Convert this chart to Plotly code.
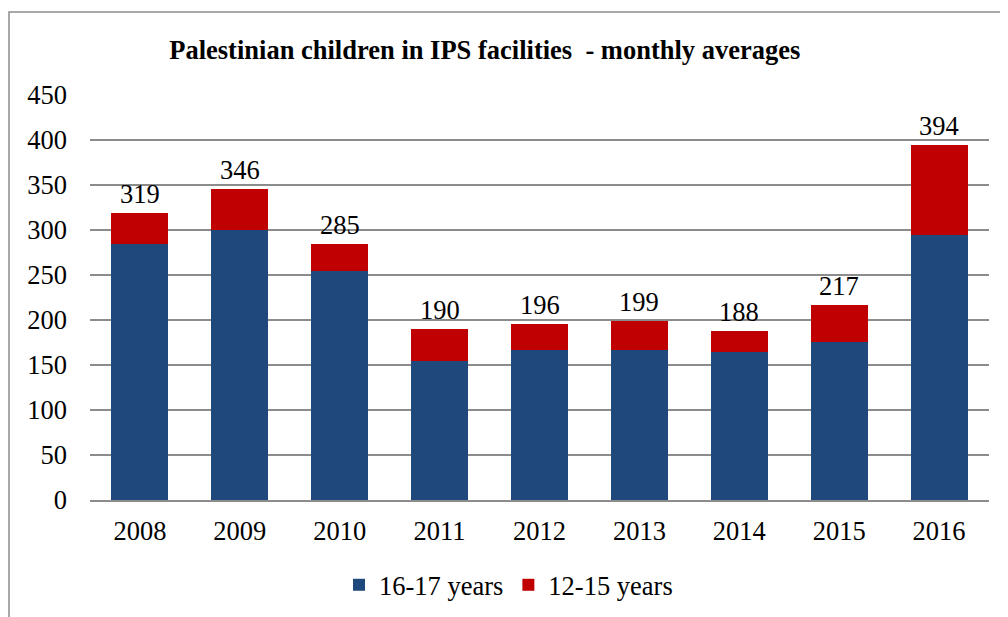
import plotly.graph_objects as go

years = ["2008", "2009", "2010", "2011", "2012", "2013", "2014", "2015", "2016"]
age_16_17 = [285, 300, 254, 154, 167, 167, 165, 176, 294]
age_12_15 = [34, 46, 31, 36, 29, 32, 23, 41, 100]
totals = [319, 346, 285, 190, 196, 199, 188, 217, 394]
y_ticks = [0, 50, 100, 150, 200, 250, 300, 350, 400, 450]

FONT = "Times New Roman, Liberation Serif, Times, serif"

fig = go.Figure()
fig.add_trace(go.Bar(x=years, y=age_16_17, name="16-17 years",
                     marker=dict(color="#1F497D", line=dict(width=0))))
fig.add_trace(go.Bar(x=years, y=age_12_15, name="12-15 years",
                     marker=dict(color="#C00000", line=dict(width=0))))

for i, t in enumerate(totals):
    fig.add_annotation(x=i, y=t, text=str(t), showarrow=False,
                       yanchor="bottom", yshift=2,
                       font=dict(family=FONT, size=26.5, color="#000"))

fig.add_shape(type="rect", xref="paper", yref="paper",
              x0=-0.0901, x1=1.05, y0=-0.35, y1=1.2049,
              line=dict(color="#8c8c8c", width=1.5), fillcolor="rgba(0,0,0,0)",
              layer="below")

fig.update_layout(
    barmode="stack",
    bargap=0.43,
    width=1008, height=617,
    margin=dict(l=82, r=27, t=87, b=125, autoexpand=False),
    paper_bgcolor="white", plot_bgcolor="white",
    font=dict(family=FONT, size=26.5, color="#000"),
    title=dict(text="<b>Palestinian children in IPS facilities  - monthly averages</b>",
               x=0.473, xanchor="center", y=0.932, yanchor="middle",
               font=dict(family=FONT, size=26.5, color="#000")),
    showlegend=True,
    legend=dict(orientation="h", x=0.4655, xanchor="center", y=-0.21, yanchor="middle",
                font=dict(family=FONT, size=26.5), itemwidth=30, traceorder="normal"),
    xaxis=dict(type="category", showgrid=False, ticks="", ticklabelstandoff=6,
               tickfont=dict(family=FONT, size=26.5), linecolor="#8c8c8c", linewidth=2,
               showline=True, automargin=False),
    yaxis=dict(range=[0, 450], tickvals=y_ticks, showgrid=True, gridcolor="#8c8c8c",
               gridwidth=2, zeroline=False, ticks="", ticklabelstandoff=22,
               tickfont=dict(family=FONT, size=26.5), automargin=False),
)

fig.write_html("out.html")
